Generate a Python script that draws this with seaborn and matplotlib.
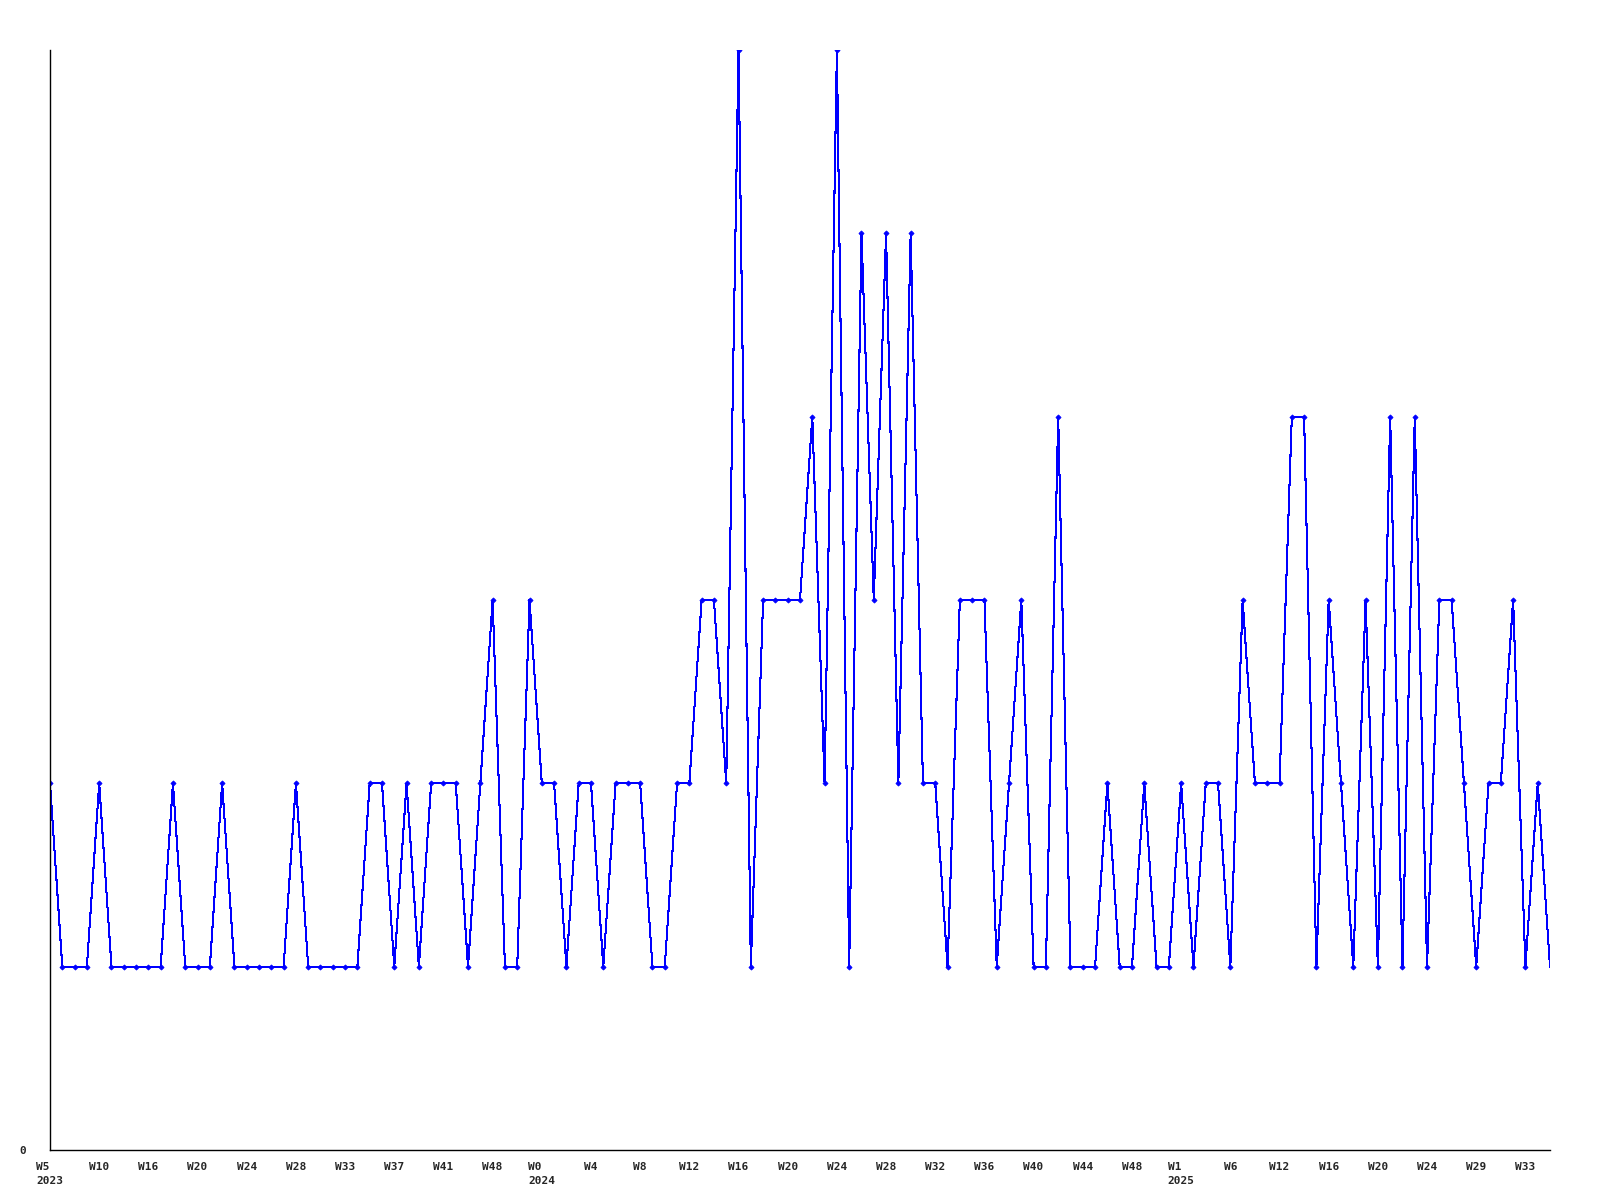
import matplotlib
matplotlib.use("Agg")
import matplotlib.pyplot as plt
import seaborn as sns
import numpy as np
import pandas as pd

# ---- data ----
values = [2, 1, 1, 1, 2, 1, 1, 1, 1, 1,
          2, 1, 1, 1, 2, 1, 1, 1, 1, 1,
          2, 1, 1, 1, 1, 1, 2, 2, 1, 2,
          1, 2, 2, 2, 1, 2, 3, 1, 1, 3,
          2, 2, 1, 2, 2, 1, 2, 2, 2, 1,
          1, 2, 2, 3, 3, 2, 6, 1, 3, 3,
          3, 3, 4, 2, 6, 1, 5, 3, 5, 2,
          5, 2, 2, 1, 3, 3, 3, 1, 2, 3,
          1, 1, 4, 1, 1, 1, 2, 1, 1, 2,
          1, 1, 2, 1, 2, 2, 1, 3, 2, 2,
          2, 4, 4, 1, 3, 2, 1, 3, 1, 4,
          1, 4, 1, 3, 3, 2, 1, 2, 2, 3,
          1, 2, 1]

week_labels = ["W5", "W10", "W16", "W20", "W24", "W28", "W33", "W37", "W41", "W48",
               "W0", "W4", "W8", "W12", "W16", "W20", "W24", "W28", "W32", "W36",
               "W40", "W44", "W48",
               "W1", "W6", "W12", "W16", "W20", "W24", "W29", "W33"]
year_labels = {0: "2023", 10: "2024", 23: "2025"}
label_step = 4

df = pd.DataFrame({"idx": np.arange(len(values)), "value": values})

sns.set_style("white")
plt.rcParams["font.family"] = ["DejaVu Sans Mono", "DejaVu Sans"]

fig = plt.figure(figsize=(16, 12), dpi=100)
ax = fig.add_axes([50 / 1600, 1 - 1150 / 1200, 1500 / 1600, 1100 / 1200])

sns.lineplot(data=df, x="idx", y="value", ax=ax, color="#0000ff",
             linewidth=0.75, marker="D", markersize=2.6,
             markeredgewidth=0.6,
             markeredgecolor="#0000ff", markerfacecolor="#0000ff",
             markevery=list(range(len(values) - 1)), antialiased=False)

ax.set_xlim(0, len(values) - 1)
ax.set_ylim(0, 6)

tick_pos = np.arange(len(week_labels)) * label_step
tick_text = [lab + ("\n" + year_labels[k] if k in year_labels else "")
             for k, lab in enumerate(week_labels)]
ax.set_xticks(tick_pos)
ax.set_xticklabels(tick_text, fontsize=8, fontweight="bold",
                   linespacing=1.45, multialignment="left")
ax.set_yticks([0])
ax.set_yticklabels(["0"], fontsize=8, fontweight="bold")
ax.tick_params(axis="x", length=0, pad=9)
ax.tick_params(axis="y", length=0, pad=17)

ax.set_xlabel("")
ax.set_ylabel("")
for s in ["top", "right"]:
    ax.spines[s].set_visible(False)
for s in ["left", "bottom"]:
    ax.spines[s].set_color("black")
    ax.spines[s].set_linewidth(1.0)
ax.grid(False)

fig.savefig("out.png", dpi=100, facecolor="white")
